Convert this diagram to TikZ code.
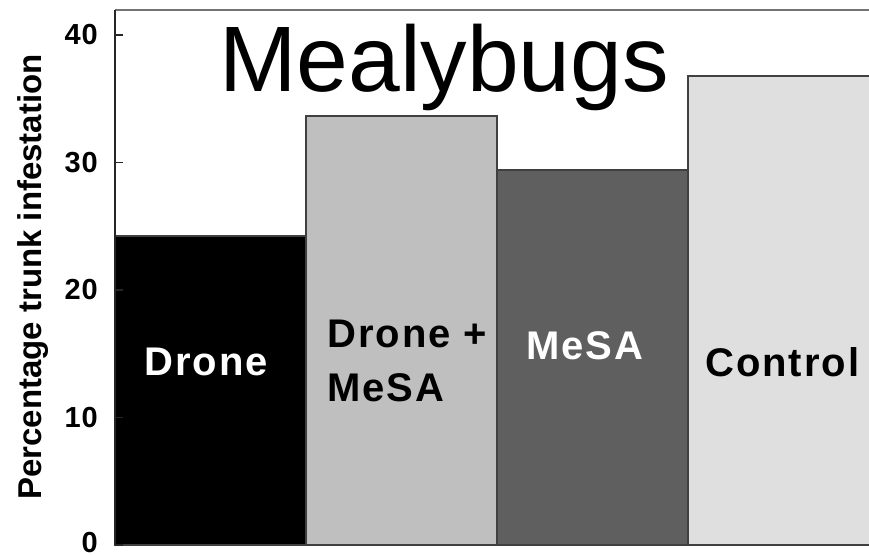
\documentclass[tikz,border=0pt]{standalone}
\usepackage{fontspec}
\setmainfont{Liberation Sans}
\begin{document}
\begin{tikzpicture}[x=1pt,y=-1pt,
  bar/.style={draw=black!75,line width=1.1pt},
  axisline/.style={draw=black!85,line width=1.5pt},
  tick/.style={draw=black!85,line width=1.2pt},
  ticklabel/.style={anchor=east,inner sep=0pt,font=\fontsize{29}{30}\selectfont\bfseries\addfontfeatures{LetterSpace=3}},
  barlabel/.style={anchor=base west,inner sep=0pt,align=left,font=\fontsize{40}{54}\selectfont\bfseries\addfontfeatures{LetterSpace=5}}]
  \useasboundingbox (0,0) rectangle (869,556);
  \clip (0,0) rectangle (869,556);
  \definecolor{barA}{HTML}{000000}
  \definecolor{barB}{HTML}{BFBFBF}
  \definecolor{barC}{HTML}{5F5F5F}
  \definecolor{barD}{HTML}{DFDFDF}
  % frame top edge
  \draw[draw=black!55,line width=1.2pt] (115,10) -- (880,10);
  % bars
  \draw[bar,fill=barA] (115,545) rectangle (306,236);
  \draw[bar,fill=barB] (306,545) rectangle (497,116);
  \draw[bar,fill=barC] (497,545) rectangle (688,170);
  \draw[bar,fill=barD] (688,545) rectangle (890,76);
  % y axis and ticks
  \draw[axisline] (115,10) -- (115,545);
  \foreach \v/\y/\ly in {0/545/543,10/417.5/417.5,20/290/290,30/162.5/162.5,40/35/35}{
    \draw[tick] (115,\y) -- (123,\y);
    \node[ticklabel] (t\v) at (98,\ly) {\v};
  }
  % y axis title
  \node[rotate=90,anchor=base,inner sep=0pt,font=\fontsize{33}{36}\selectfont\bfseries] (ytitle) at (41,277) {Percentage trunk infestation};
  % chart title
  \node[anchor=base west,inner sep=0pt,font=\fontsize{93}{100}\selectfont] (title) at (219,92) {Mealybugs};
  % bar labels
  \node[barlabel,text=white] (lA) at (144,375) {Drone};
  \node[barlabel] (lB) at (327,401) {Drone +\\MeSA};
  \node[barlabel,text=white] (lC) at (526,359) {MeSA};
  \node[barlabel] (lD) at (705,376) {Control};
\end{tikzpicture}
\end{document}
